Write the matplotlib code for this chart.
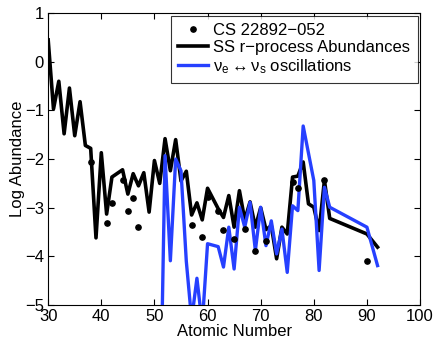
import matplotlib
matplotlib.use('Agg')
import matplotlib.pyplot as plt

# solar system r-process abundances (black line)
ss_z = [30, 31, 32, 33, 34, 35, 36, 37, 38, 39, 40, 41, 42, 44, 45, 46, 47, 48, 49, 50,
        51, 52, 53, 54, 55, 56, 57, 58, 59, 60, 62, 63, 64, 65, 66, 67, 68, 69, 70, 71,
        72, 73, 74, 75, 76, 77, 78, 79, 80, 81, 82, 83, 90, 92]
ss_log = [0.45, -0.97, -0.40, -1.48, -0.54, -1.52, -0.82, -1.72, -1.78, -3.62, -1.87, -3.13,
          -2.37, -2.22, -2.72, -2.30, -2.55, -2.28, -3.09, -2.03, -2.50, -1.58, -2.24, -1.60,
          -2.45, -2.25, -3.15, -2.90, -3.25, -2.60, -3.02, -3.20, -2.75, -3.40, -2.65, -3.25,
          -2.88, -3.40, -3.00, -3.45, -3.37, -4.05, -3.40, -3.54, -2.37, -2.35, -2.06, -2.92,
          -2.99, -3.47, -2.44, -3.22, -3.54, -3.81]

# nu_e <-> nu_s oscillation model (blue line)
osc_z = [51, 52, 53, 54, 55, 56, 57, 58, 59, 60, 62, 63, 64, 65, 66, 67, 68, 69, 70, 71,
         72, 73, 74, 75, 76, 77, 78, 79, 80, 81, 82, 83, 90, 92]
osc_log = [-8.0, -1.93, -4.09, -2.00, -2.24, -4.10, -5.30, -4.45, -5.40, -3.74, -3.80, -4.22,
           -3.40, -4.26, -2.99, -3.40, -2.89, -3.88, -2.99, -3.78, -3.27, -3.95, -3.44, -4.33,
           -2.96, -3.06, -1.32, -1.88, -2.44, -4.29, -2.58, -2.99, -3.40, -4.19]

# CS 22892-052 observed (dots)
cs_z = [38, 41, 42, 44, 45, 46, 47, 57, 59, 60, 62, 63, 65, 67, 69, 71, 76, 77, 82, 90]
cs_log = [-2.06, -3.31, -2.90, -2.44, -3.06, -2.80, -3.40, -3.35, -3.61, -2.78, -3.06, -3.46,
          -3.64, -3.44, -3.88, -3.68, -2.48, -2.60, -2.44, -4.09]


def main():
    plt.rcParams['font.family'] = ['Liberation Sans', 'DejaVu Sans']
    plt.rcParams['mathtext.fontset'] = 'custom'
    plt.rcParams['mathtext.rm'] = 'Liberation Sans'
    plt.rcParams['mathtext.it'] = 'Liberation Sans'

    fig = plt.figure(figsize=(4.38, 3.46), dpi=100)
    ax = fig.add_axes([0.110, 0.1185, 0.849, 0.8435])

    ax.plot(cs_z, cs_log, linestyle='none', marker='o', ms=3.8, color='black',
            label='CS 22892\u2212052', zorder=4)
    ax.plot(ss_z, ss_log, color='black', lw=2.6, label='SS r\u2212process Abundances', zorder=2)
    ax.plot(osc_z, osc_log, color='#2640ff', lw=2.4,
            label='$\\mathrm{\\nu_e} \\leftrightarrow \\mathrm{\\nu_s}$ oscillations', zorder=3)

    ax.set_xlim(30, 100)
    ax.set_ylim(-5, 1)
    ax.set_xticks(range(30, 101, 10))
    ax.set_yticks(range(-5, 2))
    ax.tick_params(direction='in', top=True, right=True, length=4, labelsize=12, pad=3)
    ax.set_xlabel('Atomic Number', fontsize=12, labelpad=0)
    ax.set_ylabel('Log Abundance', fontsize=12, labelpad=0)

    leg = ax.legend(loc='upper right', fontsize=12, frameon=True, fancybox=False,
                    edgecolor='black', borderaxespad=0.15, borderpad=0.45,
                    handlelength=1.8, handletextpad=0.3, labelspacing=0.12)
    leg.get_frame().set_linewidth(0.8)

    plt.savefig('out.png', dpi=100)


if __name__ == "__main__":
    main()
